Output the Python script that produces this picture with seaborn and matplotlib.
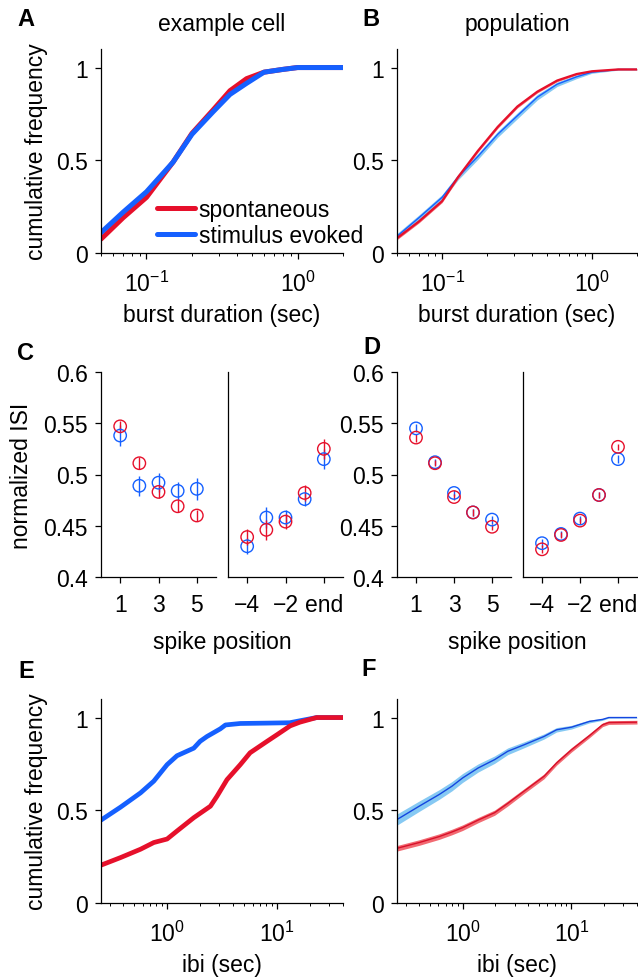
import numpy as np
import pandas as pd
import seaborn as sns
import matplotlib
matplotlib.use("Agg")
import matplotlib.pyplot as plt

# ---------------- data ----------------
# A: example cell, burst duration CDF
burst_dur_A = [0.05, 0.07, 0.1, 0.15, 0.2, 0.275, 0.357, 0.46, 0.6, 0.8, 1.0, 1.5, 2.0]
cdfA_spont = [0.075, 0.19, 0.30, 0.49, 0.645, 0.77, 0.875, 0.94, 0.975, 0.99, 1.0, 1.0, 1.0]
cdfA_evoked = [0.11, 0.22, 0.33, 0.49, 0.64, 0.76, 0.855, 0.915, 0.975, 0.99, 1.0, 1.0, 1.0]

# B: population, burst duration CDF (mean +/- sem)
burst_dur_B = [0.05, 0.07, 0.1, 0.128, 0.173, 0.235, 0.318, 0.432, 0.586, 0.79, 1.0, 1.5, 2.0]
cdfB_spont = [0.08, 0.17, 0.28, 0.41, 0.55, 0.68, 0.79, 0.87, 0.93, 0.965, 0.98, 0.99, 0.99]
cdfB_spont_err = [0.008, 0.008, 0.008, 0.008, 0.008, 0.008, 0.008, 0.007, 0.006, 0.005, 0.004, 0.003, 0.003]
cdfB_evoked = [0.09, 0.19, 0.30, 0.41, 0.52, 0.64, 0.74, 0.84, 0.91, 0.95, 0.975, 0.99, 0.99]
cdfB_evoked_err = [0.015, 0.015, 0.015, 0.015, 0.016, 0.016, 0.016, 0.015, 0.012, 0.01, 0.006, 0.004, 0.003]

# C: example cell, normalized ISI
pos_first = [1, 2, 3, 4, 5]
pos_last = [-4, -3, -2, -1, 0]
first_ticks = [1, 3, 5]
first_ticklabels = ["1", "3", "5"]
last_ticks = [-4, -2, 0]
last_ticklabels = ["\u22124", "\u22122", "end"]

C_first_spont = [0.547, 0.511, 0.483, 0.469, 0.460]
C_first_spont_err = [0.005, 0.006, 0.006, 0.006, 0.005]
C_first_evoked = [0.538, 0.489, 0.492, 0.484, 0.486]
C_first_evoked_err = [0.010, 0.010, 0.009, 0.009, 0.011]
C_last_spont = [0.439, 0.446, 0.454, 0.482, 0.525]
C_last_spont_err = [0.008, 0.010, 0.007, 0.008, 0.010]
C_last_evoked = [0.430, 0.458, 0.458, 0.476, 0.515]
C_last_evoked_err = [0.008, 0.010, 0.007, 0.007, 0.010]

# D: population, normalized ISI
D_first_spont = [0.536, 0.511, 0.478, 0.463, 0.449]
D_first_spont_err = [0.004, 0.003, 0.003, 0.003, 0.003]
D_first_evoked = [0.545, 0.512, 0.482, 0.463, 0.456]
D_first_evoked_err = [0.004, 0.003, 0.003, 0.003, 0.004]
D_last_spont = [0.427, 0.441, 0.455, 0.480, 0.527]
D_last_spont_err = [0.004, 0.003, 0.003, 0.003, 0.003]
D_last_evoked = [0.433, 0.442, 0.457, 0.480, 0.515]
D_last_evoked_err = [0.004, 0.003, 0.003, 0.003, 0.004]

# E: example cell, inter-burst interval CDF
ibiE_spont_x = [0.25, 0.377, 0.573, 0.756, 1.0, 1.23, 1.75, 2.48, 2.85, 3.51, 4.64, 5.7, 8.1, 10, 13.2, 16.2, 23, 40]
ibiE_spont_y = [0.204, 0.245, 0.29, 0.326, 0.345, 0.388, 0.46, 0.522, 0.576, 0.665, 0.746, 0.81, 0.871, 0.907, 0.955, 0.975, 1.0, 1.0]
ibiE_evoked_x = [0.25, 0.377, 0.573, 0.756, 1.0, 1.23, 1.75, 2.0, 2.31, 3.05, 3.4, 4.64, 8.1, 13.1, 17, 23, 40]
ibiE_evoked_y = [0.447, 0.517, 0.594, 0.657, 0.746, 0.794, 0.835, 0.872, 0.898, 0.939, 0.96, 0.968, 0.97, 0.972, 0.985, 1.0, 1.0]

# F: population, inter-burst interval CDF (mean +/- sem)
ibiF_x = [0.25, 0.40, 0.61, 0.80, 1.0, 1.39, 1.97, 2.6, 3.67, 5.6, 7.3, 10, 14.6, 19.3, 22, 40]
ibiF_spont = [0.295, 0.326, 0.358, 0.383, 0.406, 0.447, 0.487, 0.537, 0.603, 0.683, 0.755, 0.826, 0.902, 0.961, 0.973, 0.975]
ibiF_spont_err = [0.015, 0.015, 0.015, 0.015, 0.015, 0.014, 0.014, 0.014, 0.013, 0.013, 0.012, 0.012, 0.011, 0.01, 0.01, 0.01]
ibiF_evoked = [0.45, 0.522, 0.585, 0.63, 0.674, 0.728, 0.773, 0.818, 0.853, 0.898, 0.934, 0.948, 0.979, 0.99, 1.0, 1.0]
ibiF_evoked_err = [0.03, 0.028, 0.026, 0.025, 0.024, 0.022, 0.02, 0.018, 0.016, 0.014, 0.012, 0.01, 0.008, 0.005, 0.003, 0.002]

# ---------------- style ----------------
RED = "#e6102b"
BLUE = "#1560ff"
RED_BAND = "#f26a72"
BLUE_BAND = "#86c9f3"
RED_LINE_THIN = "#d8102a"
BLUE_LINE_THIN = "#1446e0"

sns.set_style("ticks")
plt.rcParams["font.family"] = ["Liberation Sans", "DejaVu Sans"]
plt.rcParams["mathtext.fontset"] = "custom"
plt.rcParams["mathtext.rm"] = "Liberation Sans"
plt.rcParams["mathtext.it"] = "Liberation Sans:italic"
plt.rcParams["mathtext.bf"] = "Liberation Sans:bold"
plt.rcParams["axes.linewidth"] = 0.9
plt.rcParams["axes.edgecolor"] = "black"
for k in ["text.color", "axes.labelcolor", "xtick.color", "ytick.color"]:
    plt.rcParams[k] = "black"

FS = 16.5
W, H = 638, 979
fig = plt.figure(figsize=(W / 100, H / 100), dpi=100)


def add_ax(l, r, t, b):
    return fig.add_axes([l / W, 1 - b / H, (r - l) / W, (b - t) / H])


def ftext(x, y, s, **kw):
    fig.text(x / W, 1 - y / H, s, ha="center", va="center", **kw)


def style(ax, xpad=4):
    sns.despine(ax=ax)
    ax.tick_params(axis="both", which="major", direction="out", length=4.5,
                   width=0.9, labelsize=FS, color="black", labelcolor="black", pad=5)
    ax.tick_params(axis="x", which="major", pad=xpad)
    ax.tick_params(axis="both", which="minor", direction="out", length=2.5,
                   width=0.7, color="black")
    ax.set_facecolor("white")


def cdf_axes(ax, xlim):
    ax.set_xscale("log")
    ax.set_xlim(*xlim)
    ax.set_ylim(0, 1.1)
    ax.set_yticks([0, 0.5, 1])
    ax.set_yticklabels(["0", "0.5", "1"])
    ax.yaxis.set_minor_locator(matplotlib.ticker.NullLocator())
    style(ax, xpad=8)


# ---- A ----
axA = add_ax(101, 343, 50, 254)
sns.lineplot(x=burst_dur_A, y=cdfA_spont, ax=axA, color=RED, lw=3.6, label="spontaneous")
sns.lineplot(x=burst_dur_A, y=cdfA_evoked, ax=axA, color=BLUE, lw=3.6, label="stimulus evoked")
cdf_axes(axA, (0.05, 2))
axA.legend(loc="lower left", bbox_to_anchor=(0.231, 0.03), frameon=False, fontsize=FS,
           handlelength=1.66, handletextpad=0.17, labelspacing=0.12, borderpad=0,
           borderaxespad=0)

# ---- B ----
axB = add_ax(397, 637, 50, 254)
axB.fill_between(burst_dur_B, np.subtract(cdfB_evoked, cdfB_evoked_err),
                 np.add(cdfB_evoked, cdfB_evoked_err), color=BLUE_BAND, lw=0)
sns.lineplot(x=burst_dur_B, y=cdfB_evoked, ax=axB, color=BLUE, lw=1.0)
axB.fill_between(burst_dur_B, np.subtract(cdfB_spont, cdfB_spont_err),
                 np.add(cdfB_spont, cdfB_spont_err), color=RED_BAND, lw=0)
sns.lineplot(x=burst_dur_B, y=cdfB_spont, ax=axB, color=RED, lw=1.6)
cdf_axes(axB, (0.05, 2))


# ---- C / D ----
def isi_panel(ax, x, spont, spont_err, evoked, evoked_err, ticks, ticklabels, xlim, show_y):
    ax.errorbar(x, evoked, yerr=evoked_err, fmt="none", ecolor=BLUE, elinewidth=1.0, capsize=0)
    sns.scatterplot(x=x, y=evoked, ax=ax, marker="o", s=80, facecolors="none",
                    edgecolors=BLUE, linewidths=1.0, zorder=3)
    ax.errorbar(x, spont, yerr=spont_err, fmt="none", ecolor=RED, elinewidth=1.0, capsize=0)
    sns.scatterplot(x=x, y=spont, ax=ax, marker="o", s=80, facecolors="none",
                    edgecolors=RED, linewidths=1.0, zorder=4)
    ax.set_xlim(*xlim)
    ax.set_ylim(0.4, 0.6)
    ax.set_xticks(ticks)
    ax.set_xticklabels(ticklabels)
    style(ax, xpad=7)
    if show_y:
        ax.set_yticks([0.4, 0.45, 0.5, 0.55, 0.6])
        ax.set_yticklabels(["0.4", "0.45", "0.5", "0.55", "0.6"])
    else:
        ax.tick_params(axis="y", left=False, labelleft=False)


axC1 = add_ax(101, 216, 373, 578)
isi_panel(axC1, pos_first, C_first_spont, C_first_spont_err, C_first_evoked, C_first_evoked_err,
          first_ticks, first_ticklabels, (0, 6), True)
axC2 = add_ax(228, 343, 373, 578)
isi_panel(axC2, pos_last, C_last_spont, C_last_spont_err, C_last_evoked, C_last_evoked_err,
          last_ticks, last_ticklabels, (-5, 1), False)
axD1 = add_ax(397, 511, 373, 578)
isi_panel(axD1, pos_first, D_first_spont, D_first_spont_err, D_first_evoked, D_first_evoked_err,
          first_ticks, first_ticklabels, (0, 6), True)
axD2 = add_ax(523, 637, 373, 578)
isi_panel(axD2, pos_last, D_last_spont, D_last_spont_err, D_last_evoked, D_last_evoked_err,
          last_ticks, last_ticklabels, (-5, 1), False)

# ---- E ----
axE = add_ax(101, 343, 700, 904)
sns.lineplot(x=ibiE_evoked_x, y=ibiE_evoked_y, ax=axE, color=BLUE, lw=3.4)
sns.lineplot(x=ibiE_spont_x, y=ibiE_spont_y, ax=axE, color=RED, lw=3.4)
cdf_axes(axE, (0.25, 40))

# ---- F ----
axF = add_ax(397, 637, 700, 904)
axF.fill_between(ibiF_x, np.subtract(ibiF_evoked, ibiF_evoked_err),
                 np.add(ibiF_evoked, ibiF_evoked_err), color=BLUE_BAND, lw=0)
sns.lineplot(x=ibiF_x, y=ibiF_evoked, ax=axF, color=BLUE_LINE_THIN, lw=1.0)
axF.fill_between(ibiF_x, np.subtract(ibiF_spont, ibiF_spont_err),
                 np.add(ibiF_spont, ibiF_spont_err), color=RED_BAND, lw=0)
sns.lineplot(x=ibiF_x, y=ibiF_spont, ax=axF, color=RED_LINE_THIN, lw=1.0)
cdf_axes(axF, (0.25, 40))

# ---- labels ----
ftext(222, 25, "example cell", fontsize=FS)
ftext(517, 25, "population", fontsize=FS)
ftext(37, 152, "cumulative frequency", fontsize=FS, rotation=90)
ftext(37, 802, "cumulative frequency", fontsize=FS, rotation=90)
ftext(22, 476, "normalized ISI", fontsize=FS, rotation=90)
ftext(222, 316, "burst duration (sec)", fontsize=FS)
ftext(517, 316, "burst duration (sec)", fontsize=FS)
ftext(222, 643, "spike position", fontsize=FS)
ftext(517, 643, "spike position", fontsize=FS)
ftext(222, 966, "ibi (sec)", fontsize=FS)
ftext(517, 966, "ibi (sec)", fontsize=FS)

for letter, (lx, ly) in {"A": (26, 19), "B": (371, 20), "C": (25, 353),
                         "D": (372, 348), "E": (26, 671), "F": (369, 670)}.items():
    ftext(lx, ly, letter, fontsize=17, fontweight="bold")

fig.savefig("out.png", dpi=100, facecolor="white")
